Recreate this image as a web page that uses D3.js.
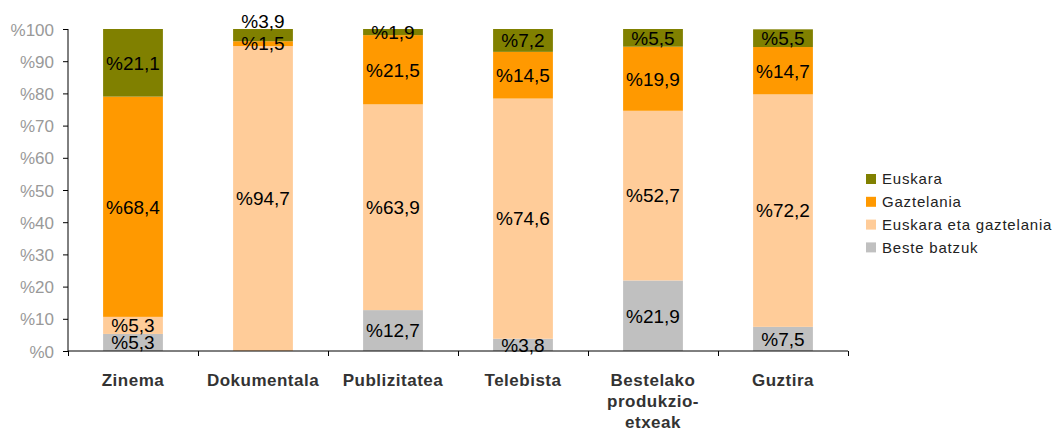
<!DOCTYPE html>
<html><head><meta charset="utf-8">
<script src="https://cdn.jsdelivr.net/npm/d3@7"></script>
<style>body{margin:0;background:#fff;} svg{display:block;font-family:"Liberation Sans",Arial,sans-serif;}</style>
</head><body>
<svg id="c" width="1058" height="433"></svg>
<script>
const categories = [["Zinema"],["Dokumentala"],["Publizitatea"],["Telebista"],["Bestelako","produkzio-","etxeak"],["Guztira"]];
const seriesNames = ["Beste batzuk","Euskara eta gaztelania","Gaztelania","Euskara"];
const besteBatzuk = [5.3, 0, 12.7, 3.8, 21.9, 7.5];
const euskaraEtaGaztelania = [5.3, 94.7, 63.9, 74.6, 52.7, 72.2];
const gaztelania = [68.4, 1.5, 21.5, 14.5, 19.9, 14.7];
const euskara = [21.1, 3.9, 1.9, 7.2, 5.5, 5.5];
const yTicks = [0,10,20,30,40,50,60,70,80,90,100];
const colors = ["#C0C0C0","#FFCC99","#FF9900","#808000"];

(function(){
const values = [besteBatzuk, euskaraEtaGaztelania, gaztelania, euskara];
const svg = d3.select("#c");
const mLeft = 68, mRight = 848, mTop = 29, mBottom = 351;
const x = d3.scaleBand().domain(d3.range(categories.length)).range([mLeft, mRight]).paddingInner(0.54).paddingOuter(0.27);
const y = d3.scaleLinear().domain([0,100]).range([mBottom, mTop]).clamp(true);

const rows = categories.map((c,i)=>{const o={i}; seriesNames.forEach((s,k)=>o[s]=values[k][i]); return o;});
const stack = d3.stack().keys(seriesNames)(rows);

stack.forEach((layer,k)=>{
  svg.append("g").selectAll("rect").data(layer).join("rect")
    .attr("x", d=>x(d.data.i)).attr("width", x.bandwidth())
    .attr("y", d=>y(d[1])).attr("height", d=>Math.max(0, y(d[0])-y(d[1])))
    .attr("fill", colors[k]);
});

// axes
const yAxis = svg.append("g").attr("transform",`translate(${mLeft},0)`)
  .call(d3.axisLeft(y).tickValues(yTicks).tickSize(5).tickFormat(d=>"%"+d));
yAxis.select(".domain").attr("stroke","#000").attr("d",`M0,${mBottom}V${mTop}`);
yAxis.selectAll(".tick line").attr("stroke","#000");
yAxis.selectAll("text").attr("fill","#999").attr("font-size",17).attr("x",-14).attr("dy","0.36em");

const xb = d3.scaleLinear().domain([0,categories.length]).range([mLeft,mRight]);
const xAxis = svg.append("g").attr("transform",`translate(0,${mBottom})`)
  .call(d3.axisBottom(xb).tickValues(d3.range(categories.length+1)).tickSize(5).tickFormat(""));
xAxis.select(".domain").attr("stroke","#000").attr("d",`M${mLeft},0H${mRight}`);
xAxis.selectAll(".tick line").attr("stroke","#000");

// category labels
categories.forEach((c,i)=>{
  const cx = x(i)+x.bandwidth()/2;
  const t = svg.append("text").attr("x", cx).attr("y", 386)
    .attr("text-anchor","middle").attr("font-size",17).attr("font-weight","bold")
    .attr("fill","#333").style("letter-spacing","0.5px");
  c.forEach((line,j)=>t.append("tspan").attr("x", cx).attr("dy", j?21:0).text(line));
});

// value labels
const fmt = v => "%" + String(v).replace(".", ",");
categories.forEach((c,i)=>{
  let prev = null;
  stack.forEach((layer,k)=>{
    const d = layer[i];
    const v = values[k][i];
    if (!v) return;
    let cy = (y(d[0]) + y(d[1]))/2;
    if (prev !== null && prev - cy < 12) cy = prev - 22;
    prev = cy;
    svg.append("text").attr("x", x(i)+x.bandwidth()/2).attr("y", cy).attr("dy","0.36em")
      .attr("text-anchor","middle").attr("font-size",19).attr("fill","#000")
      .text(fmt(v));
  });
});

// legend
const legendOrder = [3,2,1,0];
legendOrder.forEach((k,j)=>{
  const ly = 179 + j*22.8;
  svg.append("rect").attr("x",866).attr("y",ly-5).attr("width",10).attr("height",10).attr("fill",colors[k]);
  svg.append("text").attr("x",882).attr("y",ly).attr("dy","0.36em").attr("font-size",15)
    .attr("fill","#222").style("letter-spacing","0.8px").text(seriesNames[k]);
});
})();
</script>
</body></html>
